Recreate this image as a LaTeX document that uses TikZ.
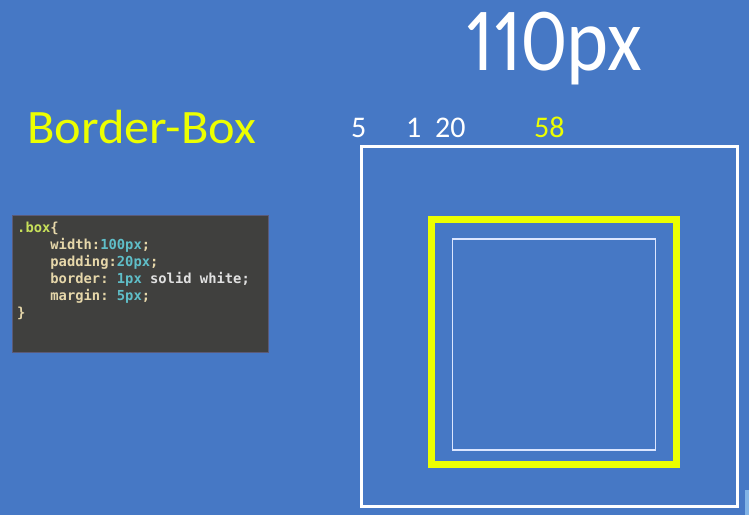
\documentclass[tikz,border=0pt]{standalone}
\usepackage{fontspec}
\setmainfont{Carlito}
\newfontfamily\codefont{DejaVu Sans Mono}
\newfontfamily\numfont[Numbers=Proportional]{Carlito}
\definecolor{bgblue}{RGB}{70,120,197}
\definecolor{codebg}{RGB}{64,64,62}
\definecolor{codeedge}{RGB}{90,90,120}
\definecolor{hiyellow}{RGB}{236,255,0}
\definecolor{selcol}{RGB}{200,225,90}
\definecolor{propcol}{RGB}{230,215,170}
\definecolor{valcol}{RGB}{95,190,200}
\definecolor{plaincol}{RGB}{225,225,225}
\definecolor{innercol}{RGB}{220,230,255}
\definecolor{cornercol}{RGB}{130,180,230}
\frenchspacing
\tikzset{
  label/.style={inner sep=0pt, anchor=base west, font=\fontsize{30}{30}\selectfont},
  codeline/.style={inner sep=0pt, anchor=base west, font=\codefont\bfseries\fontsize{13.8}{17}\selectfont, text=propcol},
}
\begin{document}
\begin{tikzpicture}[x=1pt,y=-1pt]
\fill[bgblue] (0,0) rectangle (749,515);
\useasboundingbox (0,0) rectangle (749,515);
\fill[cornercol] (745,490) rectangle (749,515);

% titles
\node[inner sep=0pt, anchor=base west, text=white, xscale=0.89, font=\numfont\fontsize{90}{90}\selectfont] (title) at (465,70) {110px};
\node[inner sep=0pt, anchor=base west, text=hiyellow, xscale=1.05, font=\fontsize{48}{48}\selectfont] (bb) at (27,143) {Border-Box};

% numbers
\node[label, text=white] (n5) at (351,137) {5};
\node[label, text=white] (n1) at (406,137) {1};
\node[label, text=white] (n20) at (435,137) {20};
\node[label, text=hiyellow] (n58) at (534,137) {58};

% boxes
\draw[white, line width=3pt] (361,146) rectangle (737.5,506.5);
\draw[hiyellow, line width=7pt] (431.5,219.5) rectangle (676.5,464.5);
\draw[innercol, line width=1.5pt] (452.5,239) rectangle (655.5,450);

% code box
\draw[codeedge, fill=codebg, line width=0.8pt] (12,215) rectangle (268,352);
\node[codeline] (c1) at (17,232) {\textcolor{selcol}{.box}\{};
\node[codeline] (c2) at (17,249) {\phantom{xxxx}width:\textcolor{valcol}{100px};};
\node[codeline] (c3) at (17,266) {\phantom{xxxx}padding:\textcolor{valcol}{20px};};
\node[codeline] (c4) at (17,283) {\phantom{xxxx}border: \textcolor{valcol}{1px} \textcolor{plaincol}{solid white;}};
\node[codeline] (c5) at (17,300) {\phantom{xxxx}margin: \textcolor{valcol}{5px};};
\node[codeline] (c6) at (17,317) {\}};
\end{tikzpicture}
\end{document}
